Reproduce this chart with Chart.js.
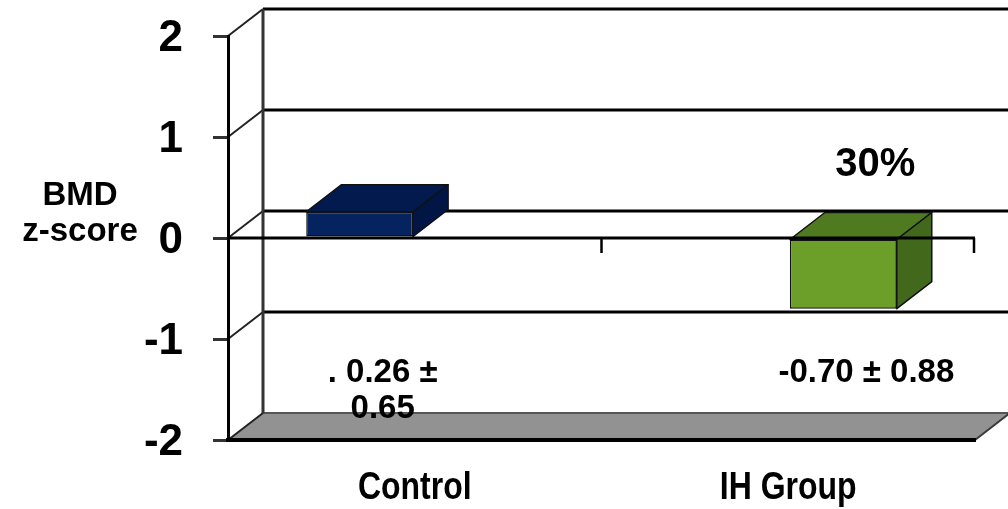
<!DOCTYPE html>
<html>
<head>
<meta charset="utf-8">
<script src="https://cdn.jsdelivr.net/npm/chart.js@4.4.1/dist/chart.umd.min.js"></script>
<style>
  html, body { margin: 0; padding: 0; background: #fff; }
  #wrap { width: 1008px; height: 509px; }
</style>
</head>
<body>
<div id="wrap"><canvas id="c" width="1008" height="509"></canvas></div>
<script>
// Group means of BMD z-score
const categories = ['Control', 'IH Group'];
const controlValues = [0.26, null];
const ihValues = [null, -0.70];
const yTickValues = [-2, -1, 0, 1, 2];
const valueLabels = [['. 0.26 \u00b1', '0.65'], ['-0.70 \u00b1 0.88']];
const changeLabel = '30%';
const axisTitle = ['BMD', 'z-score'];

// Perspective offset of the back wall and bar depth
const DEPTH_X = 35, DEPTH_Y = -27;
const SANS = "'Liberation Sans', Arial, sans-serif";

const faceColors = [
  { front: '#05235f', top: '#021a4e', side: '#011645' },
  { front: '#6b9f2a', top: '#507a1f', side: '#42681b' }
];

function line(ctx, x1, y1, x2, y2) {
  ctx.beginPath();
  ctx.moveTo(x1, y1);
  ctx.lineTo(x2, y2);
  ctx.stroke();
}

const box3d = {
  id: 'box3d',
  beforeDraw(chart) {
    const { ctx, chartArea: a, scales: { y } } = chart;
    const L = a.left, R = a.right;
    const yb = y.getPixelForValue(y.min);
    const yt = y.getPixelForValue(y.max);
    ctx.save();
    // floor
    ctx.fillStyle = '#929292';
    ctx.beginPath();
    ctx.moveTo(L, yb);
    ctx.lineTo(R, yb);
    ctx.lineTo(R + DEPTH_X, yb + DEPTH_Y);
    ctx.lineTo(L + DEPTH_X, yb + DEPTH_Y);
    ctx.closePath();
    ctx.fill();
    ctx.strokeStyle = '#555';
    ctx.lineWidth = 2;
    line(ctx, L + DEPTH_X, yb + DEPTH_Y, R + DEPTH_X, yb + DEPTH_Y);
    ctx.strokeStyle = '#3a3a3a';
    line(ctx, R, yb, R + DEPTH_X, yb + DEPTH_Y);
    // back wall gridlines and side wall diagonals
    yTickValues.forEach(v => {
      const py = y.getPixelForValue(v);
      ctx.strokeStyle = '#000';
      if (v !== y.min) {
        ctx.lineWidth = 3;
        line(ctx, L + DEPTH_X, py + DEPTH_Y, R + DEPTH_X, py + DEPTH_Y);
      }
      ctx.lineWidth = 2;
      ctx.strokeStyle = '#222';
      line(ctx, L, py, L + DEPTH_X, py + DEPTH_Y);
    });
    // back corner
    ctx.strokeStyle = '#333';
    ctx.lineWidth = 3;
    line(ctx, L + DEPTH_X, yt + DEPTH_Y, L + DEPTH_X, yb + DEPTH_Y);
    ctx.restore();
  },
  beforeDatasetsDraw(chart) {
    const { ctx } = chart;
    ctx.save();
    ctx.strokeStyle = '#111';
    ctx.lineWidth = 1.5;
    ctx.lineJoin = 'round';
    chart.data.datasets.forEach((ds, i) => {
      const meta = chart.getDatasetMeta(i);
      const col = faceColors[i];
      meta.data.forEach((bar, j) => {
        if (ds.data[j] == null) return;
        const p = bar.getProps(['x', 'y', 'base', 'width'], true);
        const left = p.x - p.width / 2, right = p.x + p.width / 2;
        const top = Math.min(p.y, p.base), bottom = Math.max(p.y, p.base);
        // top face
        ctx.fillStyle = col.top;
        ctx.beginPath();
        ctx.moveTo(left, top);
        ctx.lineTo(right, top);
        ctx.lineTo(right + DEPTH_X, top + DEPTH_Y);
        ctx.lineTo(left + DEPTH_X, top + DEPTH_Y);
        ctx.closePath();
        ctx.fill();
        ctx.stroke();
        // side face
        ctx.fillStyle = col.side;
        ctx.beginPath();
        ctx.moveTo(right, top);
        ctx.lineTo(right + DEPTH_X, top + DEPTH_Y);
        ctx.lineTo(right + DEPTH_X, bottom + DEPTH_Y);
        ctx.lineTo(right, bottom);
        ctx.closePath();
        ctx.fill();
        ctx.stroke();
      });
    });
    ctx.restore();
  },
  afterDatasetsDraw(chart) {
    const { ctx, chartArea: a, scales: { x, y } } = chart;
    const y0 = y.getPixelForValue(0);
    ctx.save();
    ctx.strokeStyle = '#000';
    ctx.lineWidth = 3;
    line(ctx, a.left, y0, a.right, y0);
    ctx.lineWidth = 2.5;
    const mid = (x.getPixelForTick(0) + x.getPixelForTick(1)) / 2;
    line(ctx, mid, y0, mid, y0 + 15);
    line(ctx, a.right - 1, y0, a.right - 1, y0 + 15);
    ctx.restore();
  },
  afterDraw(chart) {
    const { ctx, chartArea: a, scales: { x, y } } = chart;
    ctx.save();
    ctx.fillStyle = '#000';
    ctx.textAlign = 'center';
    ctx.textBaseline = 'middle';
    // category names, set in a narrow bold face
    ctx.font = 'bold 39px ' + SANS;
    chart.data.labels.forEach((lab, i) => {
      ctx.save();
      ctx.translate(x.getPixelForTick(i), a.bottom + 48);
      ctx.scale(0.82, 1);
      ctx.fillText(lab, 0, 0);
      ctx.restore();
    });
    // value labels under each bar
    ctx.font = 'bold 33px ' + SANS;
    const bars = [chart.getDatasetMeta(0).data[0], chart.getDatasetMeta(1).data[1]];
    bars.forEach((bar, i) => {
      const cx = bar.x + 23;
      valueLabels[i].forEach((t, k) => {
        ctx.fillText(t, cx, y.getPixelForValue(-1.34) + k * 36);
      });
    });
    // change annotation
    ctx.font = 'bold 40px ' + SANS;
    ctx.fillText(changeLabel, bars[1].x + 32, y.getPixelForValue(0.72));
    // axis title
    ctx.font = 'bold 33px ' + SANS;
    ctx.textBaseline = 'alphabetic';
    ctx.fillText(axisTitle[0], 80, 205);
    ctx.fillText(axisTitle[1], 80, 241);
    ctx.restore();
  }
};

new Chart(document.getElementById('c'), {
  type: 'bar',
  data: {
    labels: categories,
    datasets: [
      {
        label: 'Control',
        data: controlValues,
        backgroundColor: faceColors[0].front,
        borderColor: '#111',
        borderWidth: 1.5,
        borderSkipped: false
      },
      {
        label: 'IH Group',
        data: ihValues,
        backgroundColor: faceColors[1].front,
        borderColor: '#111',
        borderWidth: 1.5,
        borderSkipped: false
      }
    ]
  },
  options: {
    responsive: false,
    animation: false,
    events: [],
    layout: { padding: { top: 36, right: 33, left: 0, bottom: 0 } },
    datasets: { bar: { categoryPercentage: 0.59, barPercentage: 0.97 } },
    plugins: { legend: { display: false }, tooltip: { enabled: false } },
    scales: {
      x: {
        afterFit(s) { s.height = 69; s.paddingLeft = 0; s.paddingRight = 0; },
        ticks: { display: false },
        grid: { display: false, drawTicks: false },
        border: { display: true, color: '#000', width: 4 }
      },
      y: {
        min: -2,
        max: 2,
        afterBuildTicks(s) { s.ticks = yTickValues.map(v => ({ value: v })); },
        afterFit(s) { s.width = 228; s.paddingTop = 0; s.paddingBottom = 0; },
        ticks: { color: '#000', font: { family: SANS, size: 44, weight: 'bold' }, padding: 30, labelOffset: 3, callback: v => String(v) },
        grid: { display: true, drawOnChartArea: false, drawTicks: true, tickLength: 15, color: '#333', tickColor: '#333', lineWidth: 3, tickWidth: 3 },
        border: { display: true, color: '#000', width: 3 }
      }
    }
  },
  plugins: [box3d]
});
</script>
</body>
</html>
